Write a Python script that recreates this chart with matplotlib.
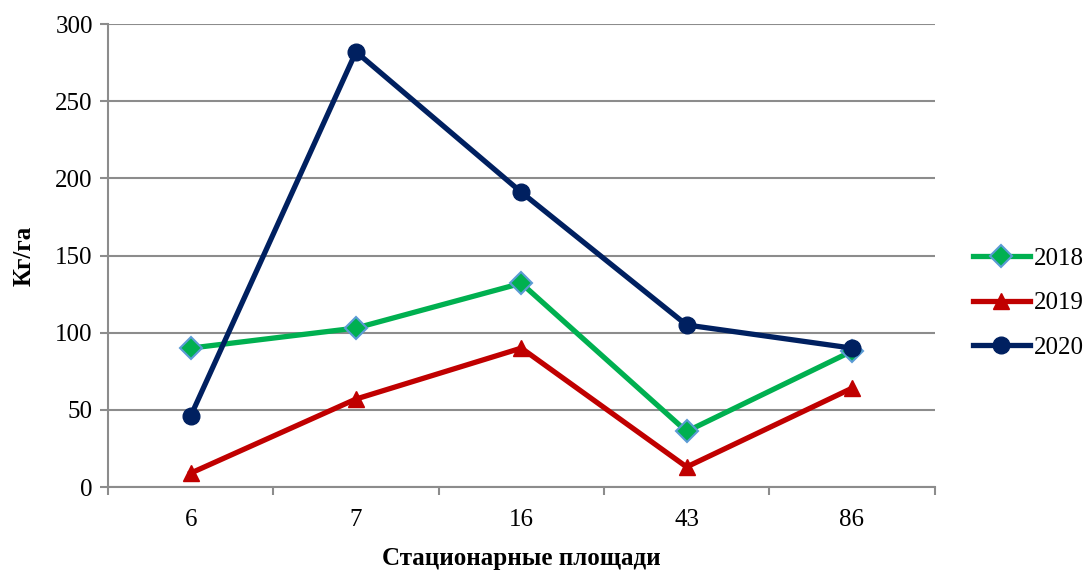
import matplotlib
matplotlib.use("Agg")
import matplotlib.pyplot as plt
import numpy as np

categories = ["6", "7", "16", "43", "86"]
s2018 = [90, 103, 132, 36, 88]
s2019 = [9, 57, 90, 13, 64]
s2020 = [46, 282, 191, 105, 90]
years = ["2018", "2019", "2020"]

plt.rcParams['font.family'] = ['Liberation Serif', 'DejaVu Serif']

fig = plt.figure(figsize=(10.88, 5.72), dpi=100)
ax = fig.add_axes([0.0993, 0.1486, 0.7597, 0.8094])

x = np.arange(len(categories))
grid_c = "#8c8c8c"

ax.plot(x, s2018, color="#00b050", lw=3.8, marker="D", ms=11, mfc="#00b050",
        mec="#5b9bd5", mew=1.5, label=years[0], zorder=3)
ax.plot(x, s2019, color="#c00000", lw=3.8, marker="^", ms=12, mfc="#c00000",
        mec="#c00000", label=years[1], zorder=3)
ax.plot(x, s2020, color="#002060", lw=3.8, marker="o", ms=12, mfc="#002060",
        mec="#002060", label=years[2], zorder=4)

ax.set_xlim(-0.5, len(categories) - 0.5)
ax.set_ylim(0, 300)
ax.set_yticks(np.arange(0, 301, 50))
ax.set_xticks(x)
ax.set_xticklabels(categories)
ax.set_xticks(np.arange(-0.5, len(categories), 1.0), minor=True)
ax.tick_params(axis='x', which='major', length=0, labelsize=18, pad=16)
ax.tick_params(axis='x', which='minor', length=6, color=grid_c, width=1.5, direction='out')
ax.tick_params(axis='y', length=6, color=grid_c, width=1.5, labelsize=18, pad=5)

ax.yaxis.grid(True, color=grid_c, lw=1.5)
ax.set_axisbelow(True)
for side in ["top", "right"]:
    ax.spines[side].set_visible(False)
for side in ["left", "bottom"]:
    ax.spines[side].set_color(grid_c)
    ax.spines[side].set_linewidth(1.5)

ax.set_ylabel("Кг/га", fontsize=18, fontweight="bold", labelpad=14)
ax.set_xlabel("Стационарные площади", fontsize=18, fontweight="bold", labelpad=11)

fig.legend(loc="center left", bbox_to_anchor=(0.894, 0.470), frameon=False,
           fontsize=18, handlelength=2.3, labelspacing=0.88, handletextpad=0.15,
           borderpad=0, borderaxespad=0)

fig.savefig("out.png", dpi=100)
